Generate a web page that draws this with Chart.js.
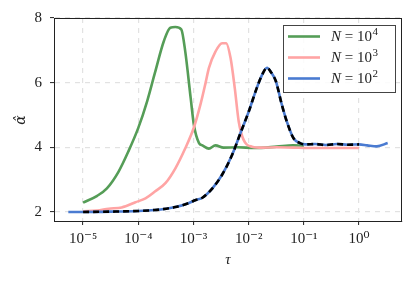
<!DOCTYPE html>
<html>
<head>
<meta charset="utf-8">
<script src="https://cdn.jsdelivr.net/npm/chart.js@4.4.1/dist/chart.umd.min.js"></script>
<style>
  html, body { margin: 0; padding: 0; background: #fff; }
  #wrap { width: 416px; height: 281px; }
</style>
</head>
<body>
<div id="wrap"><canvas id="chart"></canvas></div>
<script>
// N = 10^4
var tau4 = [1e-5, 1.8e-5, 2.7e-5, 4.4e-5, 6.6e-5, 1e-4, 1.45e-4, 2e-4, 2.9e-4, 3.8e-4,
  4.7e-4, 6e-4, 7.1e-4, 8.9e-4, 1.02e-3, 1.26e-3, 1.45e-3, 1.9e-3, 2.5e-3, 3.5e-3,
  6.3e-3, 1.26e-2, 3.2e-2, 6.3e-2, 1e-1];
var alpha4 = [2.29, 2.5, 2.73, 3.25, 3.87, 4.6, 5.43, 6.3, 7.28, 7.7,
  7.72, 7.65, 6.96, 5.52, 4.68, 4.13, 4.06, 3.96, 4.06, 3.99,
  4.0, 3.98, 4.02, 4.06, 4.05];

// N = 10^3
var tau3 = [1e-5, 1.8e-5, 2.9e-5, 5e-5, 8.9e-5, 1.35e-4, 2e-4, 3.1e-4, 4.7e-4, 7.1e-4,
  1.02e-3, 1.35e-3, 1.66e-3, 1.9e-3, 2.5e-3, 3.3e-3, 3.9e-3, 4.7e-3, 5.6e-3, 6.6e-3,
  8.1e-3, 1.15e-2, 1.8e-2, 3.2e-2, 6.3e-2, 0.126, 0.32, 1.0];
var alpha3 = [2.02, 2.04, 2.1, 2.14, 2.3, 2.42, 2.63, 2.89, 3.35, 3.97,
  4.62, 5.35, 6.0, 6.45, 6.96, 7.22, 7.22, 6.76, 5.83, 4.8,
  4.23, 4.02, 3.99, 4.0, 3.99, 3.98, 3.98, 3.98];

// N = 10^2
var tau2 = [5.4e-6, 1e-5, 3.2e-5, 1e-4, 2e-4, 3.2e-4, 4.7e-4, 8.1e-4, 1.1e-3, 1.45e-3,
  2.2e-3, 3.3e-3, 5e-3, 7.1e-3, 1e-2, 1.4e-2, 1.75e-2, 2.15e-2, 2.5e-2, 3.1e-2,
  4e-2, 4.9e-2, 6.5e-2, 8.5e-2, 0.105, 0.16, 0.25, 0.4, 0.63, 1.0,
  1.4, 2.1, 3.3];
var alpha2 = [2.0, 2.0, 2.01, 2.03, 2.06, 2.1, 2.15, 2.27, 2.37, 2.44,
  2.73, 3.15, 3.76, 4.44, 5.1, 5.83, 6.24, 6.46, 6.34, 6.05,
  5.31, 4.8, 4.28, 4.13, 4.09, 4.1, 4.07, 4.1, 4.08, 4.09,
  4.06, 4.03, 4.13];

var xTickExps = [-5, -4, -3, -2, -1, 0];
var yTicks = [2, 4, 6, 8];
var legendNames = ['4', '3', '2'];

var supMap = {'-': '\u207B', '0': '\u2070', '1': '\u00B9', '2': '\u00B2', '3': '\u00B3',
  '4': '\u2074', '5': '\u2075', '6': '\u2076', '7': '\u2077', '8': '\u2078', '9': '\u2079'};
function sup(n) {
  return String(n).split('').map(function (c) { return supMap[c]; }).join('');
}

function pts(xs, ys) {
  return xs.map(function (x, i) { return {x: x, y: ys[i]}; });
}

// dashed overlay: N=10^2 curve on the 1e-5 .. 1 range
var dashedPts = pts(tau2, alpha2).filter(function (p) { return p.x >= 1e-5 && p.x <= 1.0; });

var FONT = '"Liberation Serif", "DejaVu Serif", serif';

var framePlugin = {
  id: 'frame',
  afterDatasetsDraw: function (chart) {
    var ctx = chart.ctx, a = chart.chartArea;
    ctx.save();
    ctx.strokeStyle = '#222';
    ctx.lineWidth = 1;
    ctx.strokeRect(a.left + 0.5, a.top + 0.5, a.right - a.left - 1, a.bottom - a.top);
    ctx.restore();
  },
  afterDraw: function (chart) {
    var ctx = chart.ctx;
    ctx.save();
    // axis titles
    ctx.fillStyle = '#222';
    ctx.font = 'italic 15px ' + FONT;
    ctx.textAlign = 'center';
    ctx.textBaseline = 'middle';
    ctx.fillText('\u03C4', 228, 260);
    ctx.translate(21, 120);
    ctx.rotate(-Math.PI / 2);
    ctx.font = 'italic 14px "DejaVu Serif", serif';
    ctx.fillText('\u03B1\u0302', 0, 0);
    ctx.restore();

    // legend box
    ctx.save();
    var bx = 283, by = 25, bw = 112, bh = 67;
    ctx.fillStyle = 'rgba(255,255,255,0.85)';
    ctx.fillRect(bx, by, bw, bh);
    ctx.strokeStyle = '#444';
    ctx.lineWidth = 1;
    ctx.strokeRect(bx + 0.5, by + 0.5, bw, bh);
    var rows = [36.5, 57.5, 78.5];
    var sets = chart.data.datasets.filter(function (d) { return d.inLegend; });
    sets.forEach(function (d, i) {
      var y = rows[i];
      ctx.strokeStyle = d.borderColor;
      ctx.lineWidth = 2.6;
      ctx.beginPath();
      ctx.moveTo(288, y);
      ctx.lineTo(320, y);
      ctx.stroke();
      ctx.fillStyle = '#222';
      ctx.textAlign = 'left';
      ctx.textBaseline = 'middle';
      var x = 331;
      ctx.font = 'italic 15px ' + FONT;
      ctx.fillText('N', x, y + 1);
      x += ctx.measureText('N').width;
      ctx.font = '15px ' + FONT;
      ctx.fillText(' = 10', x, y + 1);
      x += ctx.measureText(' = 10').width;
      ctx.font = '11px ' + FONT;
      ctx.fillText(legendNames[i], x + 0.5, y - 4);
    });
    ctx.restore();
  }
};

new Chart(document.getElementById('chart'), {
  type: 'line',
  data: {
    datasets: [
      {
        label: 'N = 10^4',
        inLegend: true,
        data: pts(tau4, alpha4),
        borderColor: '#559d57',
        borderWidth: 2.6,
        pointRadius: 0,
        cubicInterpolationMode: 'monotone',
        fill: false,
        order: 3
      },
      {
        label: 'N = 10^3',
        inLegend: true,
        data: pts(tau3, alpha3),
        borderColor: '#ffa4a4',
        borderWidth: 2.6,
        pointRadius: 0,
        cubicInterpolationMode: 'monotone',
        fill: false,
        order: 2
      },
      {
        label: 'N = 10^2',
        inLegend: true,
        data: pts(tau2, alpha2),
        borderColor: '#4a7bd1',
        borderWidth: 2.6,
        pointRadius: 0,
        cubicInterpolationMode: 'monotone',
        fill: false,
        order: 1
      },
      {
        label: 'dashed',
        inLegend: false,
        data: dashedPts,
        borderColor: '#000',
        borderWidth: 2.6,
        borderDash: [6, 4],
        pointRadius: 0,
        cubicInterpolationMode: 'monotone',
        fill: false,
        order: 0
      }
    ]
  },
  options: {
    responsive: true,
    maintainAspectRatio: false,
    animation: false,
    layout: { padding: { left: 0, right: 14, top: 18, bottom: 0 } },
    plugins: {
      legend: { display: false },
      tooltip: { enabled: false }
    },
    scales: {
      x: {
        type: 'logarithmic',
        min: 2.97e-6,
        max: 6.0,
        afterBuildTicks: function (scale) {
          scale.ticks = xTickExps.map(function (e) { return {value: Math.pow(10, e)}; });
        },
        afterFit: function (scale) { scale.height = 60; },
        ticks: {
          autoSkip: false,
          maxRotation: 0,
          padding: 5,
          color: '#222',
          font: { family: FONT, size: 15 },
          callback: function (v) { return '10' + sup(Math.round(Math.log10(v))); }
        },
        grid: {
          color: '#e2e2e2',
          lineWidth: 1.2,
          tickLength: 4,
          tickColor: '#222',
          tickWidth: 1,
          tickBorderDash: []
        },
        border: { display: true, color: '#222', width: 1, dash: [5, 5] }
      },
      y: {
        type: 'linear',
        min: 1.72,
        max: 8,
        afterBuildTicks: function (scale) {
          scale.ticks = yTicks.map(function (v) { return {value: v}; });
        },
        afterFit: function (scale) { scale.width = 54; },
        ticks: {
          padding: 8,
          color: '#222',
          font: { family: FONT, size: 15 },
          callback: function (v) { return String(v); }
        },
        grid: {
          color: '#e2e2e2',
          lineWidth: 1.2,
          tickLength: 4,
          tickColor: '#222',
          tickWidth: 1,
          tickBorderDash: []
        },
        border: { display: true, color: '#222', width: 1, dash: [5, 5] }
      }
    }
  },
  plugins: [framePlugin]
});
</script>
</body>
</html>
